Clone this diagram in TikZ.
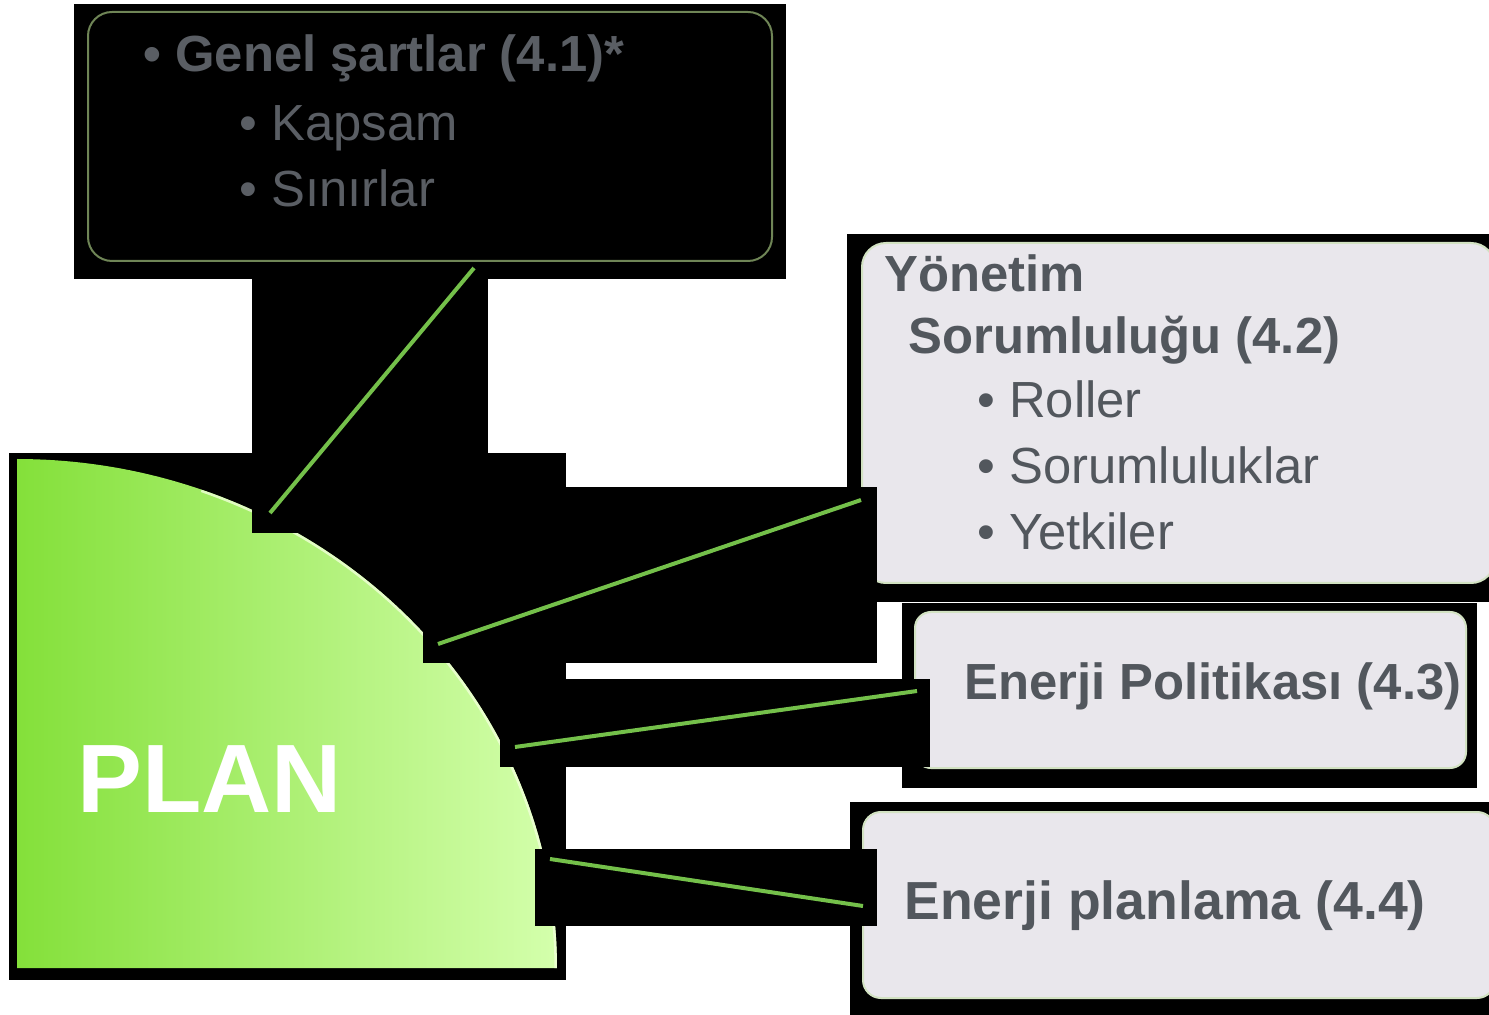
\documentclass[tikz,border=0pt]{standalone}
\usepackage{fontspec}
\setmainfont{Liberation Sans}
\definecolor{panelfill}{HTML}{E9E7EC}
\definecolor{panelrim}{HTML}{D2E2C2}
\definecolor{linkgreen}{HTML}{74C04A}
\definecolor{textgray}{HTML}{52575D}
\definecolor{topgray}{HTML}{5A5E64}
\definecolor{planleft}{HTML}{84E03A}
\definecolor{planright}{HTML}{D4FFAC}
\definecolor{planrim}{HTML}{F0FFD8}
\definecolor{toprim}{HTML}{6F8556}
\begin{document}
\begin{tikzpicture}[x=0.5pt,y=-0.5pt,
  blk/.style={fill=black},
  panel/.style={fill=panelfill, draw=panelrim, line width=1pt, rounded corners=#1},
  link/.style={draw=linkgreen, line width=2pt},
  txt/.style={anchor=base west, inner sep=0pt, text=textgray,
    font=\fontsize{25.4}{30}\selectfont},
  txtb/.style={txt, font=\fontsize{25.4}{30}\selectfont\bfseries},
]
\useasboundingbox (0,0) rectangle (1489,1015);

% PLAN quadrant on its black ground
\fill[blk] (9,453) rectangle (566,980);
\shade[left color=planleft, right color=planright]
  (17,968) -- plot[domain=90:0, samples=90] ({17+540*cos(\x)},{968-509*sin(\x)}) -- cycle;
\begin{scope}
  \clip (17,968) -- plot[domain=90:0, samples=90] ({17+540*cos(\x)},{968-509*sin(\x)}) -- cycle;
  \draw[planrim, line width=2.5pt, opacity=0.8]
    plot[domain=70:0, samples=60] ({17+540*cos(\x)},{968-509*sin(\x)});
\end{scope}
\node[anchor=base west, inner sep=0pt, text=white,
  font=\fontsize{48.6}{52}\selectfont\bfseries] (plan) at (77,812) {PLAN};

% top box: general requirements
\fill[blk] (74,4) rectangle (786,279);
\draw[toprim, line width=1pt, fill=black, rounded corners=12pt] (88,12) rectangle (772,261);
\fill[blk] (252,279) rectangle (488,533);
\node[txtb, text=topgray] (gen) at (143,72) {• Genel şartlar (4.1)*};
\node[txt, text=topgray] (kap) at (239,141) {• Kapsam};
\node[txt, text=topgray] (sin) at (239,207) {• Sınırlar};

% management responsibility
\fill[blk] (847,234) rectangle (1489,602);
\draw[panel=12pt] (862,243) rectangle (1495,583);

% energy policy
\fill[blk] (902,603) rectangle (1477,788);
\draw[panel=8pt] (915,612) rectangle (1466,768);

% energy planning
\fill[blk] (850,802) rectangle (1489,1015);
\draw[panel=9pt] (863,812) rectangle (1495,998);

% black connector bands
\fill[blk] (423,487) rectangle (877,663);
\fill[blk] (500,679) rectangle (930,767);
\fill[blk] (535,849) rectangle (877,926);

% texts in the panels
\node[txtb] (yon) at (884,292) {Yönetim};
\node[txtb] (sor) at (908,354) {Sorumluluğu (4.2)};
\node[txt] (rol) at (977,418) {• Roller};
\node[txt] (sl) at (977,484) {• Sorumluluklar};
\node[txt] (yet) at (977,550) {• Yetkiler};
\node[txtb] (pol) at (964,700) {Enerji Politikası (4.3)};
\node[txtb, font=\fontsize{26.8}{31}\selectfont\bfseries] (pla) at (904,919) {Enerji planlama (4.4)};

% connector end points
\coordinate (a1) at (270,513); \coordinate (b1) at (474,268);
\coordinate (a2) at (438,644); \coordinate (b2) at (861,500);
\coordinate (a3) at (515,747); \coordinate (b3) at (917,691);
\coordinate (a4) at (550,859); \coordinate (b4) at (863,906);
\draw[link] (a1) -- (b1);
\draw[link] (a2) -- (b2);
\draw[link] (a3) -- (b3);
\draw[link] (a4) -- (b4);
\end{tikzpicture}
\end{document}
